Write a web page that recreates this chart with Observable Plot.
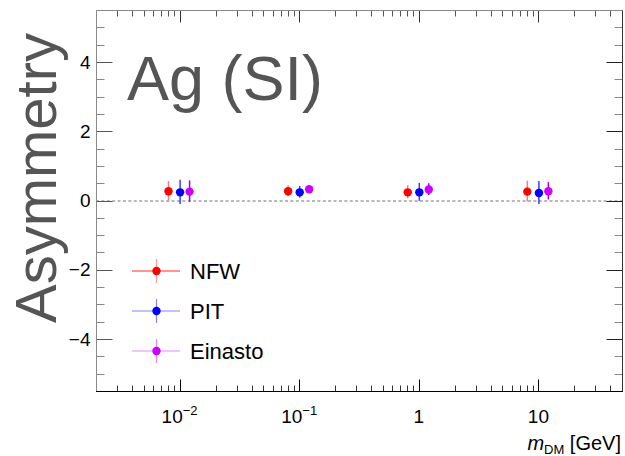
<!DOCTYPE html>
<html><head><meta charset="utf-8">
<script src="https://cdn.jsdelivr.net/npm/d3@7"></script>
<script src="https://cdn.jsdelivr.net/npm/@observablehq/plot@0.6"></script>
<style>
body{margin:0;background:#fff;}
#chart{width:625px;height:456px;}
</style></head><body><div id="chart"></div>
<script>
// ---- data ----
const massValues = [0.01, 0.1, 1, 10];           // m_DM [GeV]
const seriesNames = ["NFW", "PIT", "Einasto"];
const nfwAsym = [0.28, 0.28, 0.25, 0.27];
const nfwErr  = [0.28, 0.16, 0.19, 0.30];
const pitAsym = [0.25, 0.25, 0.25, 0.23];
const pitErr  = [0.35, 0.17, 0.26, 0.33];
const einastoAsym = [0.27, 0.34, 0.33, 0.28];
const einastoErr  = [0.31, 0.11, 0.17, 0.25];
const seriesShift = [0.8, 1, 1.2];               // horizontal display offset factor
const yTicks = [-4, -2, 0, 2, 4];
const xTicks = [0.01, 0.1, 1, 10];
const xTickBase = ["10", "10", "1", "10"];
const xTickExp  = ["−2", "−1", "", ""];
const titleText = "Ag (SI)";
const yTitle = "Asymmetry";

// ---- styles ----
const markerColors = ["#ff0000", "#0000ff", "#cc00ff"];
const barColors = ["#ff7a7a", "#3c3cff", "#a400d4"];
const legendLineColors = ["#ff2a2a", "#8484ff", "#ee84ff"];
const legendBarColors = ["#ff9a9a", "#8484ff", "#ee84ff"];
const font = "'Liberation Sans', Arial, Helvetica, sans-serif";

const asym = [nfwAsym, pitAsym, einastoAsym];
const errs = [nfwErr, pitErr, einastoErr];
const rows = seriesNames.map((s, i) => massValues.map((m, j) => ({
  series: s, mass: m, x: m * seriesShift[i], y: asym[i][j], err: errs[i][j]
})));

const marks = [Plot.ruleY([0], {stroke: "#707070", strokeDasharray: "3,2.4", strokeWidth: 1})];
rows.forEach((r, i) => {
  marks.push(Plot.ruleX(r, {x: "x", y1: d => d.y - d.err, y2: d => d.y + d.err, stroke: barColors[i], strokeWidth: 1.5}));
});
rows.forEach((r, i) => {
  marks.push(Plot.dot(r, {x: "x", y: "y", r: 4.2, fill: markerColors[i], stroke: null}));
});
marks.push(Plot.axisY(yTicks, {tickSize: 0, tickPadding: 6, fontSize: 19, fill: "#000", label: null}));

const plot = Plot.plot({
  width: 625, height: 456,
  marginLeft: 96, marginRight: 3, marginTop: 10, marginBottom: 65,
  style: {fontFamily: font, fontSize: "19px", color: "#000", background: "#fff"},
  x: {type: "log", domain: [0.002, 50], axis: null},
  y: {domain: [-5.5, 5.5], axis: null},
  marks
});
document.getElementById("chart").append(plot);

// ---- frame, ticks, labels using Plot's scales ----
const sx = plot.scale("x"), sy = plot.scale("y");
const X = v => sx.apply(v), Y = v => sy.apply(v);
const [xl, xr] = sx.range, [yb, yt] = sy.range;
const svg = d3.select(plot);
const g = svg.append("g").attr("text-anchor", "start");
const px = v => Math.round(v) + 0.5;

// y ticks (left & right, inward)
const yMinor = d3.range(-5.5, 5.51, 0.5).filter(v => !yTicks.includes(v));
yMinor.forEach(v => {
  g.append("line").attr("x1", px(xl)).attr("x2", px(xl) + 8).attr("y1", px(Y(v))).attr("y2", px(Y(v))).attr("stroke", "#888");
  g.append("line").attr("x1", px(xr)).attr("x2", px(xr) - 8).attr("y1", px(Y(v))).attr("y2", px(Y(v))).attr("stroke", "#888");
});
yTicks.forEach(v => {
  g.append("line").attr("x1", px(xl)).attr("x2", px(xl) + 16).attr("y1", px(Y(v))).attr("y2", px(Y(v))).attr("stroke", "#555");
  g.append("line").attr("x1", px(xr)).attr("x2", px(xr) - 16).attr("y1", px(Y(v))).attr("y2", px(Y(v))).attr("stroke", "#222");
});
// x ticks (bottom & top, inward)
const [d0, d1] = sx.domain;
const xMinor = [];
for (let e = -3; e <= 1; e++) for (let k = 2; k <= 9; k++) {
  const v = k * Math.pow(10, e);
  if (v > d0 && v < d1) xMinor.push(v);
}
xMinor.forEach(v => {
  g.append("line").attr("x1", px(X(v))).attr("x2", px(X(v))).attr("y1", px(yb)).attr("y2", px(yb) - 6).attr("stroke", "#333");
  g.append("line").attr("x1", px(X(v))).attr("x2", px(X(v))).attr("y1", px(yt)).attr("y2", px(yt) + 6).attr("stroke", "#555");
});
xTicks.forEach(v => {
  g.append("line").attr("x1", px(X(v))).attr("x2", px(X(v))).attr("y1", px(yb)).attr("y2", px(yb) - 12).attr("stroke", "#000");
  g.append("line").attr("x1", px(X(v))).attr("x2", px(X(v))).attr("y1", px(yt)).attr("y2", px(yt) + 12).attr("stroke", "#333");
});
// frame
g.append("line").attr("x1", px(xl)).attr("x2", px(xl)).attr("y1", px(yt)).attr("y2", px(yb)).attr("stroke", "#888");
g.append("line").attr("x1", px(xl)).attr("x2", px(xr)).attr("y1", px(yt)).attr("y2", px(yt)).attr("stroke", "#888");
g.append("line").attr("x1", px(xr)).attr("x2", px(xr)).attr("y1", px(yt)).attr("y2", px(yb)).attr("stroke", "#333");
g.append("line").attr("x1", px(xl) - 0.5).attr("x2", px(xr) + 0.5).attr("y1", px(yb)).attr("y2", px(yb)).attr("stroke", "#000");

// x tick labels
xTicks.forEach((v, i) => {
  const t = g.append("text").attr("x", X(v)).attr("y", yb + 32).attr("text-anchor", "middle")
    .attr("font-family", font).attr("font-size", 19).attr("fill", "#000");
  t.append("tspan").text(xTickBase[i]);
  if (xTickExp[i]) t.append("tspan").attr("font-size", 13).attr("dy", -8).text(xTickExp[i]);
});

// x axis title
const xt = g.append("text").attr("x", xr - 1).attr("y", 450).attr("text-anchor", "end")
  .attr("font-family", font).attr("font-size", 20).attr("fill", "#000");
xt.append("tspan").attr("font-style", "italic").text("m");
xt.append("tspan").attr("font-size", 13).attr("dy", 4).text("DM");
xt.append("tspan").attr("dy", -4).text(" [GeV]");

// legend
const legendY = [271, 311, 351];
seriesNames.forEach((s, i) => {
  const ly = legendY[i];
  g.append("line").attr("x1", 132).attr("x2", 180).attr("y1", ly).attr("y2", ly).attr("stroke", legendLineColors[i]).attr("stroke-width", 1.2);
  g.append("line").attr("x1", 156.5).attr("x2", 156.5).attr("y1", ly - 12).attr("y2", ly + 12).attr("stroke", legendBarColors[i]).attr("stroke-width", 1.2);
  g.append("circle").attr("cx", 156.5).attr("cy", ly).attr("r", 4.2).attr("fill", markerColors[i]);
  g.append("text").attr("x", 190).attr("y", ly + 8).attr("text-anchor", "start").attr("font-family", font).attr("font-size", 22).attr("fill", "#000").text(s);
});

// big title and y title
g.append("text").attr("x", 127).attr("y", 100).attr("text-anchor", "start").attr("font-family", font).attr("font-size", 63).attr("fill", "#555").text(titleText);
g.append("text").attr("transform", "translate(56,178) rotate(-90)").attr("text-anchor", "middle")
  .attr("font-family", font).attr("font-size", 58).attr("fill", "#555").text(yTitle);
</script>
</body></html>
